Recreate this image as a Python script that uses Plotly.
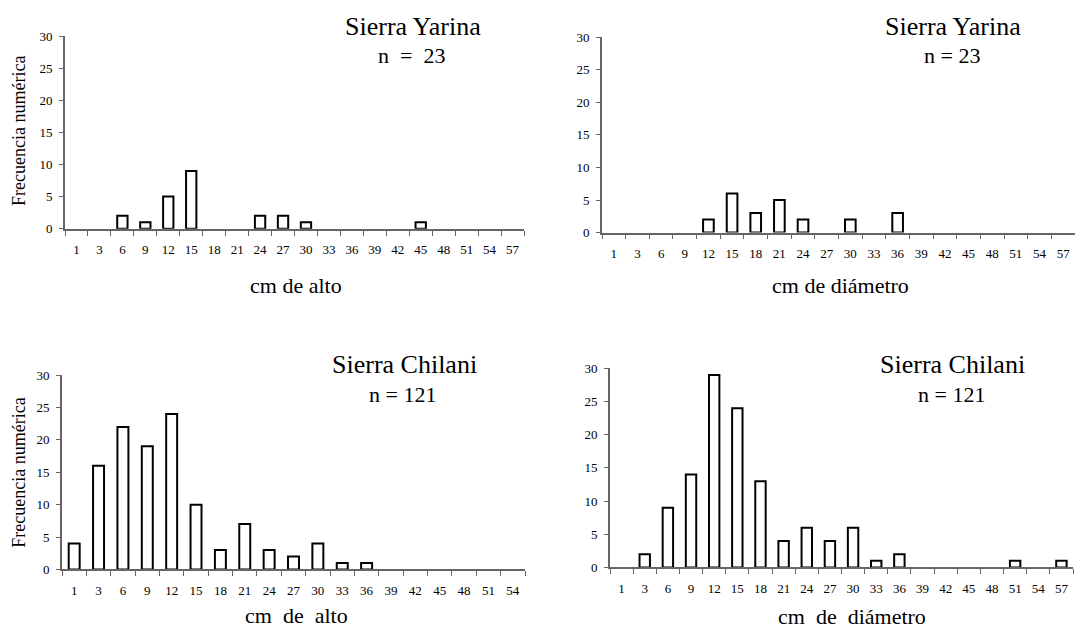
import plotly.graph_objects as go

# ---- data ----
cats_a = ["1", "3", "6", "9", "12", "15", "18", "21", "24", "27", "30", "33", "36", "39", "42", "45", "48", "51", "54", "57"]
yarina_alto = [0, 0, 2, 1, 5, 9, 0, 0, 2, 2, 1, 0, 0, 0, 0, 1, 0, 0, 0, 0]
yarina_diam = [0, 0, 0, 0, 2, 6, 3, 5, 2, 0, 2, 0, 3, 0, 0, 0, 0, 0, 0, 0]
cats_c = ["1", "3", "6", "9", "12", "15", "18", "21", "24", "27", "30", "33", "36", "39", "42", "45", "48", "51", "54"]
chilani_alto = [4, 16, 22, 19, 24, 10, 3, 7, 3, 2, 4, 1, 1, 0, 0, 0, 0, 0, 0]
chilani_diam = [0, 2, 9, 14, 29, 24, 13, 4, 6, 4, 6, 1, 2, 0, 0, 0, 0, 1, 0, 1]
y_ticks = [0, 5, 10, 15, 20, 25, 30]

W, H = 1075, 637
FONT = "Liberation Serif, Times New Roman, serif"

def px(x):
    return x / W

def py(y):
    return 1 - y / H

panels = [
    # cats, values, x0, x1, y_zero, y_top
    (cats_a, yarina_alto, 65, 524, 227, 30),
    (cats_a, yarina_diam, 602, 1075, 231, 31),
    (cats_c, chilani_alto, 62, 525, 576, 377),
    (cats_a, chilani_diam, 610, 1073, 574, 370),
]

fig = go.Figure()
layout = {}
for i, (cats, vals, x0, x1, y0, y1) in enumerate(panels, start=1):
    xa = "x" if i == 1 else f"x{i}"
    ya = "y" if i == 1 else f"y{i}"
    fig.add_trace(go.Bar(
        x=cats, y=[v if v else None for v in vals], xaxis=xa, yaxis=ya,
        marker=dict(color="white", line=dict(color="black", width=2)),
        showlegend=False, hoverinfo="skip",
    ))
    xkey = "xaxis" if i == 1 else f"xaxis{i}"
    ykey = "yaxis" if i == 1 else f"yaxis{i}"
    layout[xkey] = dict(
        domain=[px(x0), px(x1)], anchor=ya, type="category",
        categoryorder="array", categoryarray=cats,
        showline=True, linecolor="#666", linewidth=1.8,
        ticks="outside", ticklen=5, tickcolor="#666", tickwidth=1.3,
        tickson="boundaries", ticklabelstandoff=8, tickangle=0,
        showgrid=False, zeroline=False,
        tickfont=dict(family=FONT, size=13, color="black"),
        fixedrange=True,
    )
    layout[ykey] = dict(
        domain=[py(y0), py(y1)], anchor=xa, range=[0, 30],
        tickvals=y_ticks,
        showline=True, linecolor="#666", linewidth=1.8,
        ticks="outside", ticklen=4, tickcolor="#666", tickwidth=1.3,
        ticklabelstandoff=4,
        showgrid=False, zeroline=False,
        tickfont=dict(family=FONT, size=13, color="black"),
        fixedrange=True,
    )

ann = []
def text(x, y, s, size, angle=0):
    ann.append(dict(x=px(x), y=py(y), xref="paper", yref="paper", text=s,
                    showarrow=False, textangle=angle,
                    font=dict(family=FONT, size=size, color="black"),
                    xanchor="center", yanchor="middle"))

text(413, 20, "Sierra Yarina", 26)
text(412, 50, "n\u00a0 =\u00a0 23", 22)
text(953, 20, "Sierra Yarina", 26)
text(952, 50, "n = 23", 22)
text(404, 366, "Sierra Chilani", 26)
text(402, 397, "n = 121", 22)
text(952, 366, "Sierra Chilani", 26)
text(951, 397, "n = 121", 22)
text(296, 285, "cm de alto", 22)
text(840, 285, "cm de diámetro", 22)
text(296, 623, "cm\u00a0 de\u00a0 alto", 22)
text(852, 624, "cm\u00a0 de\u00a0 diámetro", 22)
text(19, 127, "Frecuencia numérica", 18, -90)
text(19, 477, "Frecuencia numérica", 18, -90)

fig.update_layout(
    width=W, height=H, margin=dict(l=0, r=0, t=0, b=0),
    paper_bgcolor="white", plot_bgcolor="white",
    bargap=0.55, annotations=ann, **layout,
)

fig.write_html("out.html", config={"displayModeBar": False},
               post_script="document.body.style.margin='0';")
